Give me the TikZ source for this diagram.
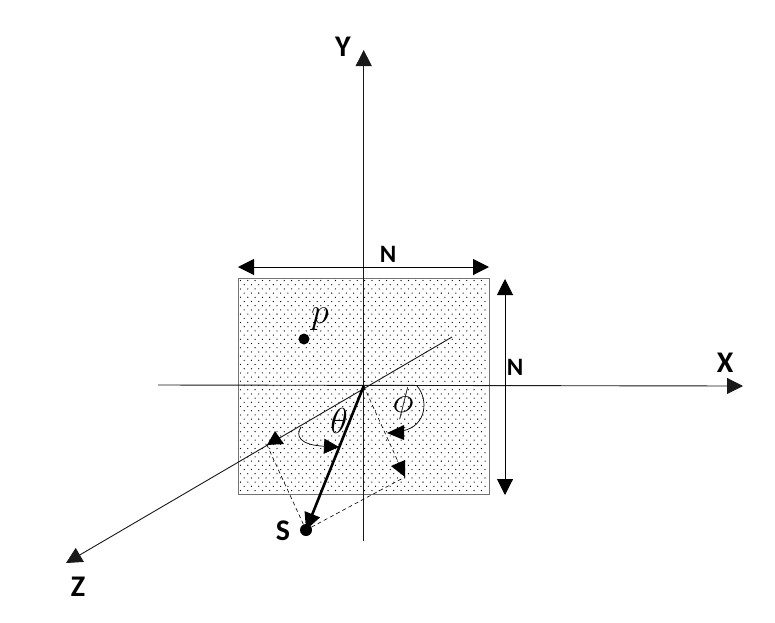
\documentclass[tikz,border=0pt]{standalone}
\usepackage{fontspec}
\usepackage{graphicx}
\setsansfont{Carlito}
\usetikzlibrary{arrows.meta}
\tikzset{
  x=1pt,y=-1pt,
  axis/.style={line width=0.9pt,black!90},
  tip/.style={-{Triangle[length=16pt,width=16pt]}},
  tiptwo/.style={{Triangle[length=16pt,width=16pt]}-{Triangle[length=16pt,width=16pt]}},
  guide/.style={line width=0.6pt,dash pattern=on 4pt off 3pt},
  axlabel/.style={font=\sffamily\bfseries\fontsize{30}{30}\selectfont,inner sep=0pt},
  dimlabel/.style={font=\sffamily\bfseries\fontsize{25}{25}\selectfont,inner sep=0pt},
  mathlabel/.style={font=\fontsize{24}{24}\selectfont,inner sep=0pt},
  dotmark/.style={circle,fill=black,inner sep=0pt},
  boxline/.style={draw=black!55,line width=0.9pt},
  angleline/.style={line width=0.7pt}
}
\begin{document}
\begin{tikzpicture}
\useasboundingbox (0,0) rectangle (775,622);
\fill[white] (0,0) rectangle (775,622);
% stippled plane
\foreach \r in {0,...,50}{
  \pgfmathsetmacro{\yy}{280.5+\r*4.2}
  \pgfmathsetmacro{\off}{mod(\r,2)*3.65}
  \foreach \c in {0,...,33}{
    \pgfmathsetmacro{\xx}{240.5+\c*7.3+\off}
    \fill[black] (\xx,\yy) circle (0.65pt);
  }
}
\node[boxline,minimum width=251pt,minimum height=216pt,inner sep=0pt,anchor=north west] (plane) at (238,278) {};
% named points
\coordinate (O) at (363.7,386);
\coordinate (Xs) at (158,385);
\coordinate (Xe) at (743,386);
\coordinate (Ys) at (363.7,541);
\coordinate (Ye) at (363.7,50);
\coordinate (Zs) at (452,337);
\coordinate (Ze) at (66,563);
\coordinate (Gz) at (267,445);
\coordinate (Gx) at (405,477);
\node[dotmark,minimum size=12pt] (S) at (306,530) {};
\node[dotmark,minimum size=11pt] (P) at (304,339) {};
% axes
\draw[axis,tip] (Xs) -- (Xe);
\draw[axis,tip] (Ys) -- (Ye);
\draw[axis,tip] (Zs) -- (Ze);
% guides
\draw[guide] (S) -- (Gz);
\draw[guide] (S) -- (Gx);
\draw[guide] (O) -- (Gx);
% vector
\draw[line width=2.6pt,-{Triangle[length=17pt,width=16pt]}] (O) -- (S.center);
% dimension arrows
\coordinate (Na) at (238,267);
\coordinate (Nb) at (489,267);
\coordinate (Nc) at (505,279);
\coordinate (Nd) at (505,495);
\draw[line width=1pt,tiptwo] (Na) -- (Nb);
\draw[line width=1pt,tiptwo] (Nc) -- (Nd);
% angle arcs
\coordinate (Ta) at (301,427);
\coordinate (Tb) at (339,447);
\draw[angleline,-{Triangle[length=15pt,width=15pt]}] (Ta) .. controls (295,436) and (300,445) .. (Tb);
\coordinate (Pa) at (417,386);
\coordinate (Pb) at (387,433);
\draw[angleline] (Pa) .. controls (428,398) and (428,426) .. (402,431);
\fill (Pb) -- (404,425) -- (404,440) -- cycle;
% loose triangles
\fill (275,431) -- (267,445) -- (284,444) -- cycle;
\fill (391,466) -- (405,460) -- (405,477) -- cycle;
% labels
\node[axlabel] (ly) at (343,47) {Y};
\node[axlabel] (lx) at (725,363) {X};
\node[axlabel] (lz) at (78,587) {Z};
\node[axlabel] (ls) at (283,531) {S};
\node[dimlabel] (ln1) at (388,254) {N};
\node[dimlabel] (ln2) at (515,367) {N};
\node[mathlabel] (lp) at (320,319) {\scalebox{1.45}{$p$}};
\node[mathlabel] (lt) at (339,421) {\scalebox{1.45}{$\theta$}};
\node[mathlabel] (lf) at (403,403) {\scalebox{1.45}{$\phi$}};
\end{tikzpicture}
\end{document}
